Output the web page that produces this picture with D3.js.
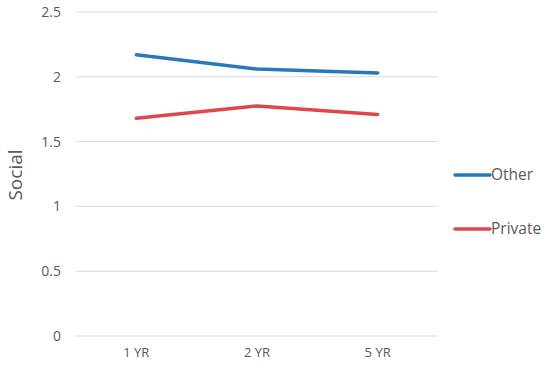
<!DOCTYPE html>
<html><head><meta charset="utf-8">
<script src="https://cdn.jsdelivr.net/npm/d3@7"></script>
<style>body{margin:0;background:#fff}svg{display:block}text{font-family:"Open Sans","Noto Sans",sans-serif;fill:#595959}</style>
</head><body><svg id="c" width="550" height="368"></svg>
<script>
const categories = ["1 YR", "2 YR", "5 YR"];
const otherValues = [2.17, 2.06, 2.03];
const privateValues = [1.68, 1.775, 1.71];
const seriesNames = ["Other", "Private"];
const seriesColors = ["#2878bd", "#e0474c"];
const yTicks = [0, 0.5, 1, 1.5, 2, 2.5];

(function () {
const svg = d3.select("#c");
const mLeft = 76, mRight = 438, mTop = 12, mBottom = 336;
const x = d3.scaleBand().domain(categories).range([mLeft, mRight]);
const y = d3.scaleLinear().domain([0, 2.5]).range([mBottom, mTop]);

svg.append("g").selectAll("line").data(yTicks).join("line")
  .attr("x1", mLeft).attr("x2", mRight)
  .attr("y1", d => y(d)).attr("y2", d => y(d))
  .attr("stroke", "#d9d9d9").attr("stroke-width", 1);

svg.append("g").selectAll("text").data(yTicks).join("text")
  .attr("x", 61).attr("y", d => y(d)).attr("dy", "0.35em")
  .attr("text-anchor", "end").attr("font-size", 14)
  .text(d => d3.format("")(d));

svg.append("g").selectAll("text").data(categories).join("text")
  .attr("x", d => x(d) + x.bandwidth() / 2).attr("y", 357)
  .attr("text-anchor", "middle").attr("font-size", 13)
  .text(d => d);

svg.append("text").attr("transform", "translate(22,175) rotate(-90)")
  .attr("text-anchor", "middle").attr("font-size", 19).text("Social");

const series = [otherValues, privateValues];
const line = d3.line().x((d, i) => x(categories[i]) + x.bandwidth() / 2).y(d => y(d));
series.forEach((vals, i) => {
  svg.append("path").datum(vals).attr("d", line)
    .attr("fill", "none").attr("stroke", seriesColors[i])
    .attr("stroke-width", 3.5).attr("stroke-linecap", "round").attr("stroke-linejoin", "round");
});

const legY = [175, 229];
seriesNames.forEach((n, i) => {
  svg.append("line").attr("x1", 455).attr("x2", 490).attr("y1", legY[i]).attr("y2", legY[i])
    .attr("stroke", seriesColors[i]).attr("stroke-width", 3.5).attr("stroke-linecap", "round");
  svg.append("text").attr("x", 491).attr("y", legY[i]).attr("dy", "0.35em")
    .attr("font-size", 15.5).text(n);
});
})();
</script></body></html>
